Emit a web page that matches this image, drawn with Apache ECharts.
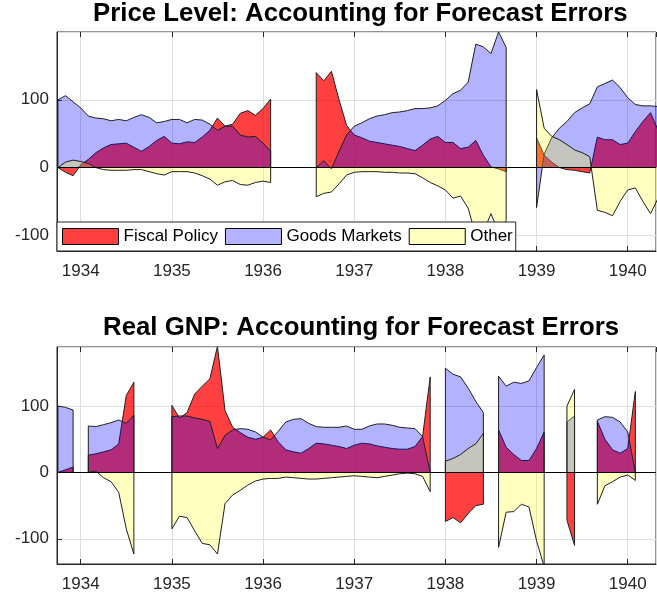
<!DOCTYPE html>
<html>
<head>
<meta charset="utf-8">
<title>Accounting for Forecast Errors</title>
<script src="https://cdn.jsdelivr.net/npm/echarts@6/dist/echarts.min.js"></script>
<style>
  html, body { margin: 0; padding: 0; background: #fff; }
  #chart { width: 657px; height: 601px; }
</style>
</head>
<body>
<div id="chart"></div>
<script>
// monthly values, one inner array per unbroken stretch; each stretch starts at the date below
const priceStarts = [1933.75, 1936.5833, 1939.0]
const priceFiscal = [
  [0, -7, -12, 4, 12, 22, 29, 34, 35, 36, 30, 24, 31, 40, 46, 36, 35, 38, 37, 45, 55, 73, 61, 64, 80, 84, 77, 87, 101],
  [140, 128, 142, 100, 62, 48, 44, 39, 37, 35, 33, 31, 28, 25, 33, 42, 46, 37, 37, 28, 30, 40, 18, 1, -2, -6],
  [44, 18, 8, 0, -3, -4, -6, -8, 45, 41, 41, 34, 36, 53, 68, 81, 55],
]
const priceGoods = [
  [100, 106, 97, 88, 76, 73, 72, 69, 71, 69, 74, 78, 74, 66, 68, 71, 71, 66, 71, 70, 64, 55, 61, 61, 48, 45, 46, 36, 24],
  [2, 10, -2, 24, 48, 61, 66, 72, 76, 78, 81, 82, 84, 87, 87, 88, 91, 99, 109, 114, 126, 182, 178, 168, 200, 177],
  [-59, 20, 44, 58, 68, 81, 88, 94, 119, 124, 129, 118, 103, 93, 91, 91, 90],
]
const priceOther = [
  [0, 8, 11, 9, 6, 0, -3, -4, -4, -4, -3, -3, -6, -9, -11, -6, -6, -6, -8, -12, -17, -26, -21, -19, -25, -26, -22, -20, -22],
  [-43, -38, -36, -24, -11, -7, -6, -6, -6, -7, -7, -8, -8, -9, -15, -22, -27, -33, -45, -42, -60, -100, -95, -68, -95, -78],
  [115, 58, 46, 41, 34, 26, 22, 16, -63, -66, -71, -50, -33, -30, -50, -68, -45],
]

const gnpStarts = [1933.75, 1934.0833, 1935.0, 1938.0, 1938.5833, 1939.3333, 1939.6667]
const gnpFiscal = [
  [0, 4, 8],
  [26, 28, 31, 34, 43, 116, 136],
  [101, 82, 90, 118, 130, 141, 190, 93, 68, 60, 53, 50, 53, 64, 46, 34, 31, 29, 36, 44, 43, 41, 39, 36, 41, 44, 43, 40, 38, 36, 35, 35, 39, 54, 144],
  [-74, -68, -76, -62, -50, -48],
  [64, 38, 27, 18, 18, 36, 61],
  [-72, -110],
  [77, 50, 34, 29, 36, 122],
]
const gnpGoods = [
  [100, 98, 94],
  [70, 69, 72, 75, 79, 74, 86],
  [84, 85, 85, 82, 80, 77, 36, 56, 64, 66, 65, 61, 53, 49, 62, 76, 80, 81, 74, 69, 68, 68, 68, 70, 65, 65, 70, 73, 73, 71, 68, 67, 66, 54, 0],
  [157, 148, 144, 127, 107, 90],
  [145, 130, 136, 134, 138, 158, 177],
  [76, 85],
  [79, 84, 83, 76, 61, 0],
]
const gnpOther = [
  [0, 0, 0],
  [2, 2, -8, -14, -30, -85, -123],
  [-85, -66, -68, -88, -107, -109, -123, -47, -34, -27, -19, -13, -10, -9, -9, -7, -8, -9, -10, -10, -9, -8, -7, -6, -5, -6, -7, -8, -6, -4, -2, -1, -2, -6, -29],
  [17, 21, 27, 36, 43, 59],
  [-113, -60, -59, -48, -52, -103, -142],
  [100, 125],
  [-48, -20, -14, -7, -4, -12],
]

const yTicks = [-100, 0, 100]
const titles = ['Price Level: Accounting for Forecast Errors', 'Real GNP: Accounting for Forecast Errors']
const names = ['Fiscal Policy', 'Goods Markets', 'Other']

const FONT = 'Liberation Sans, Arial, sans-serif'
const INK = '#262626'
const xMin = 1933.74
const xMax = 1940.31

// fill colour + alpha of each area, and the flattened colour for the legend swatch
const looks = [
  { fill: 'rgb(255,0,0)', alpha: 0.75, swatch: 'rgb(255,64,64)' },
  { fill: 'rgb(0,0,255)', alpha: 0.3, swatch: 'rgb(179,179,255)' },
  { fill: 'rgb(255,255,0)', alpha: 0.25, swatch: 'rgb(255,255,191)' },
]

// turn the stretches into [date, value] pairs, closed down to zero at both ends, broken by a null
function toPoints (starts, stretches) {
  const out = []
  stretches.forEach((vals, k) => {
    const t0 = starts[k]
    const tEnd = t0 + (vals.length - 1) / 12
    if (k > 0) out.push([t0 - 1 / 24, null])
    out.push([t0, 0])
    vals.forEach((v, i) => out.push([t0 + i / 12, v]))
    out.push([tEnd, 0])
  })
  return out
}

function areaSeries (idx, gridIndex, starts, stretches) {
  const s = {
    name: names[idx],
    type: 'line',
    xAxisIndex: gridIndex,
    yAxisIndex: gridIndex,
    data: toPoints(starts, stretches),
    showSymbol: false,
    connectNulls: false,
    silent: true,
    itemStyle: { color: looks[idx].swatch },
    lineStyle: { color: '#1f1f1f', width: 1 },
    areaStyle: { color: looks[idx].fill, opacity: looks[idx].alpha, origin: 0 },
    z: 2 + idx,
  }
  if (idx === 0) {
    s.markLine = {
      silent: true,
      symbol: 'none',
      label: { show: false },
      lineStyle: { color: '#000', width: 1, type: 'solid' },
      data: [{ yAxis: 0 }],
    }
  }
  return s
}

function xAxisBottom (gridIndex) {
  return {
    type: 'value',
    gridIndex,
    min: xMin,
    max: xMax,
    minInterval: 1,
    maxInterval: 1,
    axisLine: { show: true, onZero: false, lineStyle: { color: INK } },
    axisTick: { inside: true, length: 5, lineStyle: { color: INK } },
    axisLabel: {
      showMinLabel: false,
      showMaxLabel: false,
      formatter: (v) => String(Math.round(v)),
      fontSize: 17,
      fontFamily: FONT,
      color: INK,
      margin: 12,
    },
    splitLine: { show: true, lineStyle: { color: '#dedede' } },
  }
}

function xAxisTop (gridIndex) {
  return {
    type: 'value',
    gridIndex,
    position: 'top',
    min: xMin,
    max: xMax,
    minInterval: 1,
    maxInterval: 1,
    axisLine: { show: false, onZero: false },
    axisTick: { inside: true, length: 5, lineStyle: { color: INK } },
    axisLabel: { show: false },
    splitLine: { show: false },
  }
}

function yAxis (gridIndex, min, max) {
  return {
    type: 'value',
    gridIndex,
    min,
    max,
    splitNumber: 3,
    minInterval: 100,
    maxInterval: 100,
    axisLine: { show: true, onZero: false, lineStyle: { color: INK } },
    axisTick: { inside: true, length: 5, lineStyle: { color: INK } },
    axisLabel: {
      showMinLabel: false,
      showMaxLabel: false,
      formatter: (v) => (yTicks.includes(v) ? String(v) : ''),
      fontSize: 17,
      fontFamily: FONT,
      color: INK,
      margin: 8,
    },
    splitLine: { show: true, lineStyle: { color: '#dedede' } },
  }
}

const chart = echarts.init(document.getElementById('chart'), null, { renderer: 'canvas' })

chart.setOption({
  animation: false,
  backgroundColor: '#fff',
  title: [
    { text: titles[0], left: 93, top: 1, padding: 0, textStyle: { fontSize: 25.8, fontWeight: 'bold', color: '#000', fontFamily: FONT } },
    { text: titles[1], left: 103, top: 315, padding: 0, textStyle: { fontSize: 25.8, fontWeight: 'bold', color: '#000', fontFamily: FONT } },
  ],
  legend: {
    data: names.map((n, i) => ({
      name: n,
      itemStyle: { color: looks[i].swatch, borderColor: '#000', borderWidth: 1, opacity: 1 },
    })),
    left: 57,
    top: 222,
    icon: 'rect',
    itemWidth: 56,
    itemHeight: 16,
    itemGap: 7,
    padding: [6, 3, 6, 5],
    backgroundColor: '#fff',
    borderColor: INK,
    borderWidth: 1,
    selectedMode: false,
    textStyle: { fontSize: 17, fontFamily: FONT, color: '#000' },
    z: 10,
  },
  grid: [
    { left: 57, right: 1, top: 32, height: 219, show: true, borderColor: INK, borderWidth: 1, outerBoundsMode: 'none' },
    { left: 57, right: 1, top: 347, height: 217, show: true, borderColor: INK, borderWidth: 1, outerBoundsMode: 'none' },
  ],
  xAxis: [xAxisBottom(0), xAxisBottom(1), xAxisTop(0), xAxisTop(1)],
  yAxis: [yAxis(0, -123, 199.9), yAxis(1, -138, 189)],
  series: [
    areaSeries(0, 0, priceStarts, priceFiscal),
    areaSeries(1, 0, priceStarts, priceGoods),
    areaSeries(2, 0, priceStarts, priceOther),
    areaSeries(0, 1, gnpStarts, gnpFiscal),
    areaSeries(1, 1, gnpStarts, gnpGoods),
    areaSeries(2, 1, gnpStarts, gnpOther),
  ],
})
</script>
</body>
</html>
